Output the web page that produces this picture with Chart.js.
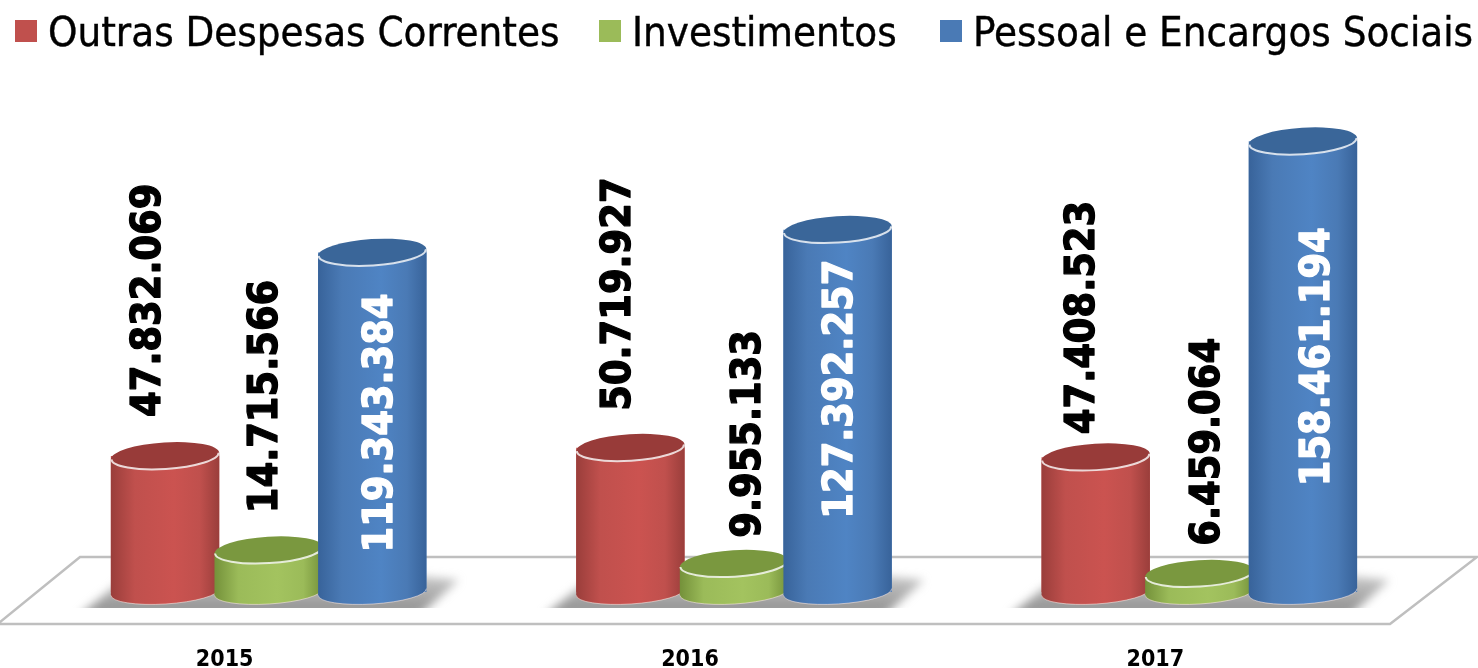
<!DOCTYPE html>
<html><head><meta charset="utf-8">
<style>html,body{margin:0;padding:0;background:#fff}#w{width:1478px;height:668px;position:relative}</style>
<script src="https://cdn.jsdelivr.net/npm/chart.js@4/dist/chart.umd.min.js"></script>
</head><body><div id="w"><canvas id="c" width="1478" height="668"></canvas></div>
<script>
const categories = ['2015','2016','2017'];
const seriesNames = ['Outras Despesas Correntes','Investimentos','Pessoal e Encargos Sociais'];
const outrasDespesas = [47832069, 50719927, 47408523];
const investimentos = [14715566, 9955133, 6459064];
const pessoal = [119343384, 127392257, 158461194];

const FONT = "'DejaVu Sans Condensed','DejaVu Sans',sans-serif";
const palette = [
  {base:'#c0504d', edge:'#9a3e3b', mid:'#cb5350', top:'#983b39'},
  {base:'#9bbb59', edge:'#74913a', mid:'#a3c35f', top:'#7a983f'},
  {base:'#4a7ab5', edge:'#38639a', mid:'#4f84c4', top:'#3a6699'}
];
// label placement: horizontal nudge from bar centre and vertical distance from the bar's value
const labelDx = [[-16,-11,-12],[-2,15,9],[9,4,15]];
const labelDy = [[39,37,23],[37,26,28],[-300,-289,-345]];
// legend placement
const legendBoxX = [15,599,940];
const legendBoxW = [22,22,22];
const legendTextX = [48,632,973];

const fmt = v => String(v).replace(/\B(?=(\d{3})+$)/g,'.');

function cylinder(ctx, x, y, base, w, col){
  const rx=w/2, ry=13.5, rot=-3.6*Math.PI/180;
  const L=x-rx, R=x+rx, s=rx*Math.sin(-rot);
  const g=ctx.createLinearGradient(L,0,R,0);
  g.addColorStop(0,col.edge); g.addColorStop(.22,col.base); g.addColorStop(.58,col.mid);
  g.addColorStop(.82,col.base); g.addColorStop(1,col.edge);
  ctx.beginPath();
  ctx.moveTo(L,y+s);
  ctx.lineTo(L,base+s);
  ctx.ellipse(x,base,rx,ry-1.5,rot,Math.PI,0,true);
  ctx.lineTo(R,y-s);
  ctx.closePath();
  ctx.fillStyle=g; ctx.fill();
  ctx.lineWidth=1; ctx.strokeStyle='rgba(255,235,230,.55)';
  ctx.beginPath(); ctx.ellipse(x,base,rx,ry-1.5,rot,Math.PI,0,true); ctx.stroke();
  ctx.beginPath(); ctx.ellipse(x,y,rx,ry,rot,0,Math.PI*2);
  ctx.fillStyle=col.top; ctx.fill();
  ctx.lineWidth=2; ctx.strokeStyle='rgba(255,255,255,.8)';
  ctx.beginPath(); ctx.ellipse(x,y,rx-.5,ry-.5,rot,0,Math.PI); ctx.stroke();
}

const scene = {
  id:'scene',
  beforeDatasetsDraw(chart){
    const {ctx,chartArea:a,scales:{x}}=chart, b=a.bottom;
    ctx.save();
    ctx.beginPath();
    ctx.moveTo(80,b-35); ctx.lineTo(a.right+45,b-35); ctx.lineTo(a.right-42,b+32); ctx.lineTo(0,b+32); ctx.lineTo(0,b+30); ctx.closePath();
    ctx.fillStyle='#fff'; ctx.fill();
    ctx.strokeStyle='#bfbfbf'; ctx.lineWidth=2.5; ctx.stroke();
    categories.forEach((c,i)=>{
      const m=x.getPixelForValue(i);
      ctx.save();
      ctx.beginPath(); ctx.rect(0,b-30,1478,46); ctx.clip();
      ctx.filter='blur(5px)';
      const g=ctx.createLinearGradient(0,b-20,0,b+16);
      g.addColorStop(0,'rgba(150,150,150,.45)'); g.addColorStop(1,'rgba(150,150,150,1)');
      ctx.fillStyle=g;
      ctx.beginPath();
      ctx.moveTo(m-190,b+24); ctx.lineTo(m-146,b-12); ctx.lineTo(m+150,b-16); ctx.lineTo(m+190,b-12); ctx.lineTo(m+150,b+24); ctx.closePath();
      ctx.fill();
      ctx.restore();
    });
    ctx.restore();
  },
  afterDatasetsDraw(chart){
    const {ctx}=chart;
    ctx.save();
    categories.forEach((c,i)=>{
      seriesNames.forEach((n,d)=>{
        const p=chart.getDatasetMeta(d).data[i].getProps(['x','y','base','width'],true);
        cylinder(ctx,p.x,p.y,p.base,p.width,palette[d]);
      });
    });
    seriesNames.forEach((n,d)=>{
      const vals=chart.data.datasets[d].data;
      categories.forEach((c,i)=>{
        const p=chart.getDatasetMeta(d).data[i].getProps(['x','y'],true);
        ctx.save();
        ctx.translate(p.x+labelDx[d][i],p.y-labelDy[d][i]);
        ctx.rotate(-Math.PI/2);
        ctx.font="bold 41px "+FONT;
        ctx.textAlign='left'; ctx.textBaseline='middle';
        ctx.lineJoin='round';
        ctx.fillStyle=ctx.strokeStyle=d===2?'#ffffff':'#000000';
        ctx.lineWidth=1.3;
        ctx.strokeText(fmt(vals[i]),0,0);
        ctx.fillText(fmt(vals[i]),0,0);
        ctx.restore();
      });
    });
    // legend row
    seriesNames.forEach((n,d)=>{
      ctx.fillStyle=palette[d].base;
      ctx.fillRect(legendBoxX[d],20,legendBoxW[d],22);
      ctx.fillStyle='#000';
      ctx.font="41.6px "+FONT;
      ctx.textAlign='left'; ctx.textBaseline='alphabetic';
      ctx.strokeStyle='#000'; ctx.lineWidth=.4;
      ctx.strokeText(n,legendTextX[d],46);
      ctx.fillText(n,legendTextX[d],46);
    });
    ctx.restore();
  }
};

new Chart(document.getElementById('c'),{
  type:'bar',
  plugins:[scene],
  data:{labels:categories,datasets:[
    {label:seriesNames[0],data:outrasDespesas,backgroundColor:palette[0].base},
    {label:seriesNames[1],data:investimentos,backgroundColor:palette[1].base},
    {label:seriesNames[2],data:pessoal,backgroundColor:palette[2].base}
  ]},
  options:{
    responsive:false,animation:false,
    categoryPercentage:.668,barPercentage:1.046,
    layout:{padding:{top:80,left:36,right:46,bottom:0}},
    plugins:{tooltip:{enabled:false},legend:{display:false}},
    scales:{
      x:{grid:{display:false},border:{display:false},
        afterFit(s){s.height=76},
        ticks:{color:'#000',font:{family:FONT,size:23,weight:'bold'},padding:46,labelOffset:-44,maxRotation:0}},
      y:{min:0,max:180000000,display:false}
    }
  }
});
</script></body></html>
